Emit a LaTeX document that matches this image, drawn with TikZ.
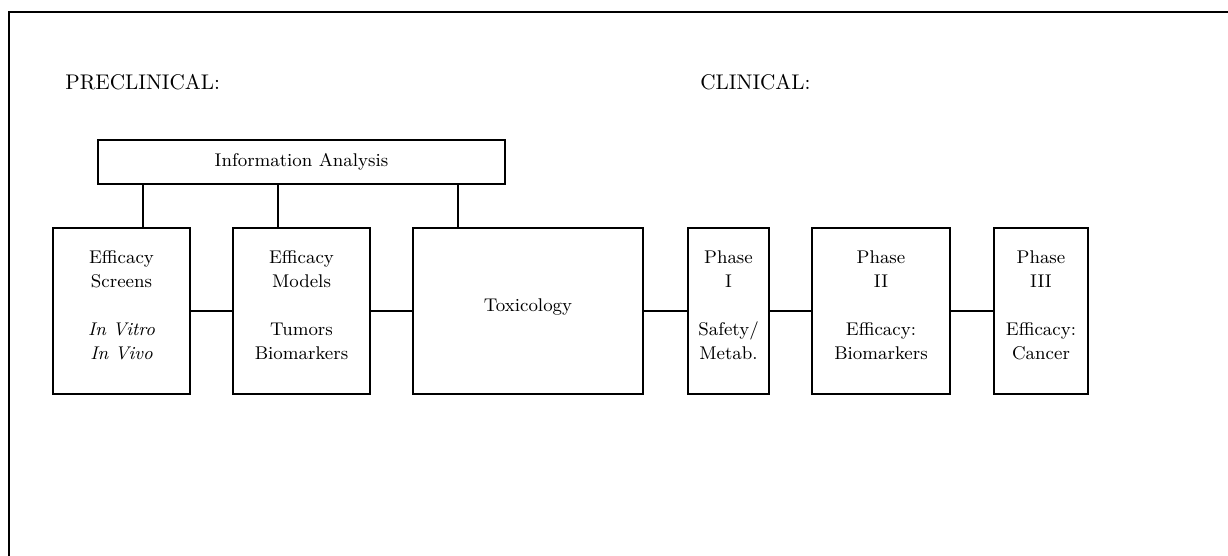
\documentclass[tikz,border=0pt]{standalone}
\usetikzlibrary{calc}
\begin{document}
\begin{tikzpicture}[x=0.5pt,y=-0.5pt,
  box/.style={draw,line width=0.6pt,minimum height=83pt,inner sep=0pt,align=center,
    font=\fontsize{9.2}{12}\selectfont},
  head/.style={font=\fontsize{10.6}{13}\selectfont,anchor=west,inner sep=0pt},
  conn/.style={line width=0.6pt}]
\useasboundingbox (0,0) rectangle (1228,556);
% frame
\coordinate (fb) at (9,556);
\coordinate (fr) at (1228,12);
\draw[line width=0.6pt] (fb) |- (fr);
% headings
\node[head] (pre) at (65,82) {PRECLINICAL:};
\node[head] (cli) at (700,82) {CLINICAL:};
% info
\node[box,minimum width=203.5pt,minimum height=22pt] (info) at (301.5,162) {Information Analysis};
% boxes
\node[box,minimum width=68.5pt] (b1) at (121.5,311) {Efficacy\\Screens\\[12pt]\textit{In Vitro}\\\textit{In Vivo}\\[-6pt]\mbox{}};
\node[box,minimum width=68.5pt] (b2) at (301.5,311) {Efficacy\\Models\\[12pt]Tumors\\Biomarkers\\[-6pt]\mbox{}};
\node[box,minimum width=115pt] (b3) at (528,311) {Toxicology\\[-6pt]\mbox{}};
\node[box,minimum width=40.5pt] (b4) at (728.5,311) {Phase\\I\\[12pt]Safety/\\Metab.\\[-6pt]\mbox{}};
\node[box,minimum width=69pt] (b5) at (881,311) {Phase\\II\\[12pt]Efficacy:\\Biomarkers\\[-6pt]\mbox{}};
\node[box,minimum width=47pt] (b6) at (1041,311) {Phase\\III\\[12pt]Efficacy:\\Cancer\\[-6pt]\mbox{}};
% vertical connectors
\draw[conn] (info.south -| 143,0) -- (b1.north -| 143,0);
\draw[conn] (info.south -| 278,0) -- (b2.north -| 278,0);
\draw[conn] (info.south -| 458,0) -- (b3.north -| 458,0);
% horizontal connectors
\draw[conn] (b1) -- (b2);
\draw[conn] (b2) -- (b3);
\draw[conn] (b3) -- (b4);
\draw[conn] (b4) -- (b5);
\draw[conn] (b5) -- (b6);
\end{tikzpicture}
\end{document}
